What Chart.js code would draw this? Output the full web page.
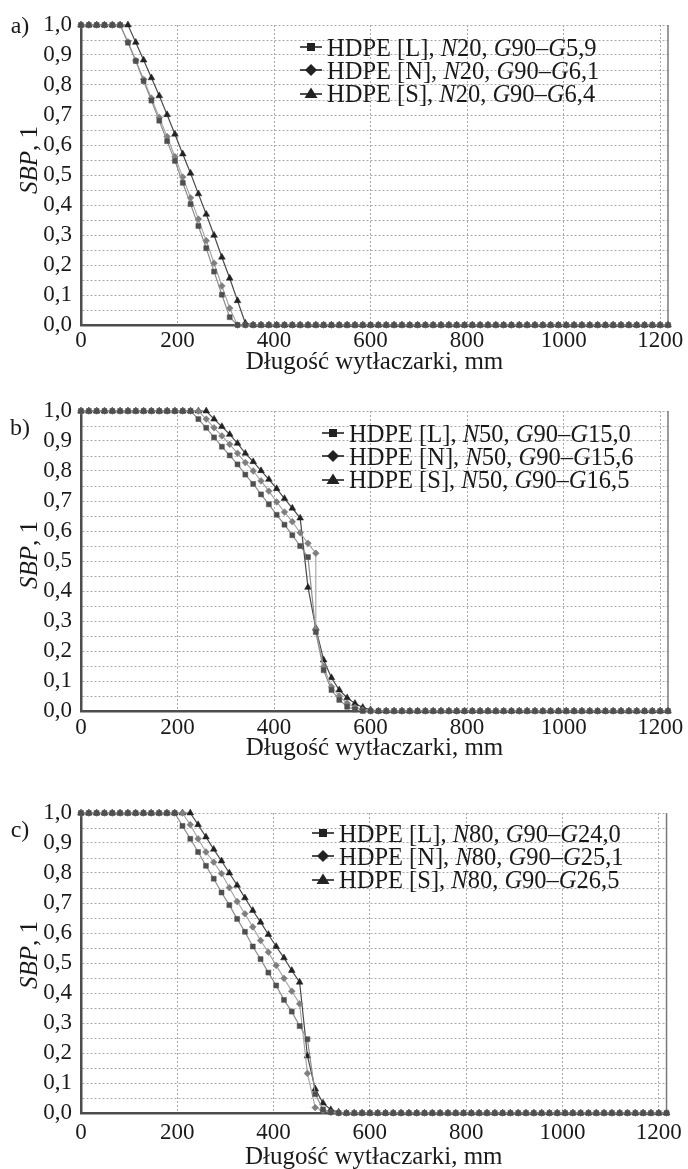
<!DOCTYPE html>
<html><head><meta charset="utf-8">
<script src="https://cdn.jsdelivr.net/npm/chart.js@4.4.1/dist/chart.umd.min.js"></script>
<style>
html,body{margin:0;padding:0;background:#fff;overflow:hidden;width:688px;height:1169px;}
#wrap{position:relative;width:688px;height:1169px;font-family:"Liberation Serif",serif;color:#1a1a1a;}
canvas{position:absolute;left:0;}
.lab{position:absolute;font-size:24px;white-space:nowrap;transform:translate(-50%,-50%);line-height:1;}
.ytitle{position:absolute;font-size:25px;white-space:nowrap;transform:translate(-50%,-50%) rotate(-90deg);line-height:1;}
.legend{position:absolute;font-size:24.5px;line-height:23px;}
.row{display:flex;align-items:center;height:23px;white-space:nowrap;}
.row svg{flex:none;margin-right:5px;}
</style></head><body><div id="wrap">
<canvas id="c0" width="688" height="382" style="top:0px"></canvas>
<canvas id="c1" width="688" height="382" style="top:386px"></canvas>
<canvas id="c2" width="688" height="390" style="top:788px"></canvas>
</div>
<script>
// ---------------- DATA ----------------
const xGrid = [0, 16.2, 32.4, 48.6, 64.9, 81.1, 97.3, 113.5, 129.7, 145.9,
  162.2, 178.4, 194.6, 210.8, 227.0, 243.2, 259.5, 275.7, 291.9, 308.1,
  324.3, 340.5, 356.8, 373.0, 389.2, 405.4, 421.6, 437.8, 454.1, 470.3,
  486.5, 502.7, 518.9, 535.1, 551.4, 567.6, 583.8, 600.0, 616.2, 632.4,
  648.6, 664.9, 681.1, 697.3, 713.5, 729.7, 745.9, 762.2, 778.4, 794.6,
  810.8, 827.0, 843.2, 859.5, 875.7, 891.9, 908.1, 924.3, 940.5, 956.8,
  973.0, 989.2, 1005.4, 1021.6, 1037.8, 1054.1, 1070.3, 1086.5, 1102.7, 1118.9,
  1135.1, 1151.4, 1167.6, 1183.8, 1200.0, 1216.2];
const xGridBN = [0, 16.2, 32.4, 48.6, 64.9, 81.1, 97.3, 113.5, 129.7, 145.9,
  162.2, 178.4, 194.6, 210.8, 227.0, 243.2, 259.5, 275.7, 291.9, 308.1,
  324.3, 340.5, 356.8, 373.0, 389.2, 405.4, 421.6, 437.8, 454.1, 470.3,
  486.5, 486.5, 502.7, 518.9, 535.1, 551.4, 567.6, 583.8, 600.0, 616.2, 632.4,
  648.6, 664.9, 681.1, 697.3, 713.5, 729.7, 745.9, 762.2, 778.4, 794.6,
  810.8, 827.0, 843.2, 859.5, 875.7, 891.9, 908.1, 924.3, 940.5, 956.8,
  973.0, 989.2, 1005.4, 1021.6, 1037.8, 1054.1, 1070.3, 1086.5, 1102.7, 1118.9,
  1135.1, 1151.4, 1167.6, 1183.8, 1200.0, 1216.2];

// a) N20
const aL = [1, 1, 1, 1, 1, 1, 0.941, 0.88, 0.813, 0.748,
  0.681, 0.613, 0.547, 0.474, 0.403, 0.33, 0.256, 0.178, 0.101, 0.026,
  0, 0, 0, 0, 0, 0, 0, 0, 0, 0,  0, 0, 0, 0, 0, 0, 0, 0, 0, 0,
  0, 0, 0, 0, 0, 0, 0, 0, 0, 0,  0, 0, 0, 0, 0, 0, 0, 0, 0, 0,
  0, 0, 0, 0, 0, 0, 0, 0, 0, 0,  0, 0, 0, 0, 0, 0];
const aN = [1, 1, 1, 1, 1, 1, 0.944, 0.882, 0.819, 0.756,
  0.692, 0.628, 0.561, 0.493, 0.424, 0.353, 0.281, 0.206, 0.13, 0.056,
  0, 0, 0, 0, 0, 0, 0, 0, 0, 0,  0, 0, 0, 0, 0, 0, 0, 0, 0, 0,
  0, 0, 0, 0, 0, 0, 0, 0, 0, 0,  0, 0, 0, 0, 0, 0, 0, 0, 0, 0,
  0, 0, 0, 0, 0, 0, 0, 0, 0, 0,  0, 0, 0, 0, 0, 0];
const aS = [1, 1, 1, 1, 1, 1, 1, 0.942, 0.883, 0.824,
  0.764, 0.701, 0.636, 0.57, 0.506, 0.437, 0.369, 0.299, 0.226, 0.156,
  0.081, 0.006, 0, 0, 0, 0, 0, 0, 0, 0,  0, 0, 0, 0, 0, 0, 0, 0, 0, 0,
  0, 0, 0, 0, 0, 0, 0, 0, 0, 0,  0, 0, 0, 0, 0, 0, 0, 0, 0, 0,
  0, 0, 0, 0, 0, 0, 0, 0, 0, 0,  0, 0, 0, 0, 0, 0];

// b) N50
const bL = [1, 1, 1, 1, 1, 1, 1, 1, 1, 1,
  1, 1, 1, 1, 1, 0.973, 0.944, 0.912, 0.881, 0.852,
  0.822, 0.788, 0.757, 0.722, 0.689, 0.654, 0.621, 0.586, 0.55, 0.513,
  0.263, 0.136, 0.07, 0.037, 0.014, 0.005, 0, 0, 0, 0,
  0, 0, 0, 0, 0, 0, 0, 0, 0, 0,  0, 0, 0, 0, 0, 0, 0, 0, 0, 0,
  0, 0, 0, 0, 0, 0, 0, 0, 0, 0,  0, 0, 0, 0, 0, 0];
const bN = [1, 1, 1, 1, 1, 1, 1, 1, 1, 1,
  1, 1, 1, 1, 1, 1, 0.973, 0.944, 0.917, 0.889,
  0.859, 0.828, 0.8, 0.767, 0.733, 0.697, 0.663, 0.631, 0.594, 0.559,
  0.526, 0.272, 0.148, 0.081, 0.05, 0.026, 0.012, 0.004, 0, 0, 0,
  0, 0, 0, 0, 0, 0, 0, 0, 0, 0,  0, 0, 0, 0, 0, 0, 0, 0, 0, 0,
  0, 0, 0, 0, 0, 0, 0, 0, 0, 0,  0, 0, 0, 0, 0, 0];
const bS = [1, 1, 1, 1, 1, 1, 1, 1, 1, 1,
  1, 1, 1, 1, 1, 1, 1, 0.973, 0.948, 0.922,
  0.892, 0.859, 0.831, 0.801, 0.772, 0.741, 0.708, 0.676, 0.643, 0.412,
  0.276, 0.17, 0.111, 0.07, 0.044, 0.025, 0.012, 0.004, 0, 0,
  0, 0, 0, 0, 0, 0, 0, 0, 0, 0,  0, 0, 0, 0, 0, 0, 0, 0, 0, 0,
  0, 0, 0, 0, 0, 0, 0, 0, 0, 0,  0, 0, 0, 0, 0, 0];

// c) N80
const cL = [1, 1, 1, 1, 1, 1, 1, 1, 1, 1,
  1, 1, 1, 0.957, 0.914, 0.87, 0.824, 0.781, 0.735, 0.693,
  0.647, 0.604, 0.555, 0.513, 0.468, 0.425, 0.377, 0.338, 0.29, 0.246,
  0.063, 0.012, 0.003, 0, 0, 0, 0, 0, 0, 0,
  0, 0, 0, 0, 0, 0, 0, 0, 0, 0,  0, 0, 0, 0, 0, 0, 0, 0, 0, 0,
  0, 0, 0, 0, 0, 0, 0, 0, 0, 0,  0, 0, 0, 0, 0, 0];
const cN = [1, 1, 1, 1, 1, 1, 1, 1, 1, 1,
  1, 1, 1, 1, 0.961, 0.914, 0.87, 0.836, 0.798, 0.751,
  0.705, 0.664, 0.62, 0.575, 0.536, 0.492, 0.449, 0.406, 0.364, 0.132,
  0.018, 0.008, 0.002, 0, 0, 0, 0, 0, 0, 0,
  0, 0, 0, 0, 0, 0, 0, 0, 0, 0,  0, 0, 0, 0, 0, 0, 0, 0, 0, 0,
  0, 0, 0, 0, 0, 0, 0, 0, 0, 0,  0, 0, 0, 0, 0, 0];
const cS = [1, 1, 1, 1, 1, 1, 1, 1, 1, 1,
  1, 1, 1, 1, 1, 0.961, 0.92, 0.879, 0.84, 0.8,
  0.759, 0.717, 0.675, 0.636, 0.595, 0.555, 0.517, 0.475, 0.436, 0.19,
  0.08, 0.033, 0.011, 0.003, 0, 0, 0, 0, 0, 0,
  0, 0, 0, 0, 0, 0, 0, 0, 0, 0,  0, 0, 0, 0, 0, 0, 0, 0, 0, 0,
  0, 0, 0, 0, 0, 0, 0, 0, 0, 0,  0, 0, 0, 0, 0, 0];

const panelLetters = ['a)', 'b)', 'c)'];
const materials = ['HDPE [L]', 'HDPE [N]', 'HDPE [S]'];
const screwSpeeds = ['20', '50', '80'];
const gA = ['5,9', '6,1', '6,4'];
const gB = ['15,0', '15,6', '16,5'];
const gC = ['24,0', '25,1', '26,5'];
const xTicks = [0, 200, 400, 600, 800, 1000, 1200];
const yGrid = [0, 0.05, 0.1, 0.15, 0.2, 0.25, 0.3, 0.35, 0.4, 0.45, 0.5,
  0.55, 0.6, 0.65, 0.7, 0.75, 0.8, 0.85, 0.9, 0.95, 1];
const yTickLabels = ['0,0', '0,1', '0,2', '0,3', '0,4', '0,5', '0,6', '0,7', '0,8', '0,9', '1,0'];
const xTitle = 'Długość wytłaczarki, mm';
const yTitleItalic = 'SBP';
const yTitleRest = ', 1';
const xMax = 1216.2;

// ---------------- STYLE / LAYOUT ----------------
const seriesStyle = [
  {pointStyle: 'rect', radius: 3.5, fill: '#4f4f4f', line: '#8e8e8e', lw: 1.2},
  {pointStyle: 'rectRot', radius: 3.4, fill: '#7f7f7f', line: '#a3a3a3', lw: 1.1},
  {pointStyle: 'triangle', radius: 3.9, fill: '#222222', line: '#4a4a4a', lw: 1.2}
];
const layouts = [
  {axisH: 57, tickPad: 2, titlePad: 5, legendX: 311, legendY: 47, letterY: 25, yTitleY: 160, top: 0},
  {axisH: 57, tickPad: 3, titlePad: 5, legendX: 333, legendY: 433, letterY: 427, yTitleY: 555, top: 386},
  {axisH: 65, tickPad: 6, titlePad: 5.6, legendX: 323, legendY: 833, letterY: 829, yTitleY: 955, top: 788}
];
const panels = [
  {series: [[xGrid, aL], [xGrid, aN], [xGrid, aS]], g: gA},
  {series: [[xGrid, bL], [xGridBN, bN], [xGrid, bS]], g: gB},
  {series: [[xGrid, cL], [xGrid, cN], [xGrid, cS]], g: gC}
];

Chart.defaults.font.family = '"Liberation Serif", serif';
Chart.defaults.color = '#1a1a1a';

const rightBorder = {
  id: 'rightBorder',
  beforeDatasetsDraw(chart) {
    const {ctx, chartArea: a} = chart;
    ctx.save();
    ctx.strokeStyle = '#7a7a7a';
    ctx.lineWidth = 1.5;
    ctx.beginPath();
    ctx.moveTo(a.right, a.top);
    ctx.lineTo(a.right, a.bottom);
    ctx.stroke();
    ctx.restore();
  }
};

const symbolSvg = [
  '<svg width="22" height="14"><line x1="0" y1="7" x2="22" y2="7" stroke="#222" stroke-width="1.6"/><rect x="7" y="3" width="8" height="8" fill="#222"/></svg>',
  '<svg width="22" height="14"><line x1="0" y1="7" x2="22" y2="7" stroke="#222" stroke-width="1.6"/><polygon points="11,1 17,7 11,13 5,7" fill="#222"/></svg>',
  '<svg width="22" height="14"><line x1="0" y1="8" x2="22" y2="8" stroke="#222" stroke-width="1.6"/><polygon points="11,1.5 17.5,12 4.5,12" fill="#222"/></svg>'
];

const wrap = document.getElementById('wrap');

panels.forEach((p, pi) => {
  const L = layouts[pi];
  const datasets = p.series.map(([xs, ys], k) => {
    const st = seriesStyle[k];
    return {
      label: materials[k],
      data: xs.map((x, i) => ({x: x, y: ys[i]})),
      showLine: true,
      borderColor: st.line,
      borderWidth: st.lw,
      pointStyle: st.pointStyle,
      pointRadius: st.radius,
      pointBackgroundColor: st.fill,
      pointBorderColor: st.fill,
      pointBorderWidth: 0.5,
      tension: 0,
      clip: false
    };
  });
  new Chart(document.getElementById('c' + pi), {
    type: 'scatter',
    data: {datasets},
    options: {
      responsive: false,
      animation: false,
      devicePixelRatio: 1,
      layout: {padding: {top: 25, right: 20, bottom: 0, left: 0}},
      plugins: {legend: {display: false}, tooltip: {enabled: false}},
      scales: {
        x: {
          type: 'linear', min: 0, max: xMax, bounds: 'data',
          afterBuildTicks: s => { s.ticks = xTicks.map(v => ({value: v})); },
          afterFit: s => { s.height = L.axisH; },
          ticks: {callback: v => String(v), font: {size: 23}, color: '#1a1a1a',
                  padding: L.tickPad, maxRotation: 0, autoSkip: false},
          grid: {color: '#a8a8a8', lineWidth: 1, drawTicks: false},
          border: {display: true, color: '#4d4d4d', width: 2.5, dash: [2, 2]},
          title: {display: true, text: xTitle, font: {size: 25}, color: '#1a1a1a',
                  padding: {top: 0, bottom: L.titlePad}}
        },
        y: {
          type: 'linear', min: 0, max: 1, bounds: 'data',
          afterBuildTicks: s => { s.ticks = yGrid.map(v => ({value: v})); },
          afterFit: s => { s.width = 81; },
          ticks: {
            callback: v => { const k = Math.round(v * 20); return k % 2 === 0 ? yTickLabels[k / 2] : ''; },
            font: {size: 23}, color: '#1a1a1a', padding: 9, autoSkip: false
          },
          grid: {color: '#a8a8a8', lineWidth: 1, drawTicks: false},
          border: {display: true, color: '#4d4d4d', width: 2.5, dash: [2, 2]}
        }
      }
    },
    plugins: [rightBorder]
  });

  // panel letter
  const lt = document.createElement('div');
  lt.className = 'lab';
  lt.style.left = '20px';
  lt.style.top = L.letterY + 'px';
  lt.textContent = panelLetters[pi];
  wrap.appendChild(lt);

  // y title
  const yt = document.createElement('div');
  yt.className = 'ytitle';
  yt.style.left = '28px';
  yt.style.top = L.yTitleY + 'px';
  yt.innerHTML = '<i>' + yTitleItalic + '</i>' + yTitleRest;
  wrap.appendChild(yt);

  // legend
  const lg = document.createElement('div');
  lg.className = 'legend';
  lg.style.left = (L.legendX - 11) + 'px';
  lg.style.top = (L.legendY - 11.5) + 'px';
  lg.innerHTML = materials.map((m, k) =>
    '<div class="row">' + symbolSvg[k] + '<span>' + m + ', <i>N</i>' + screwSpeeds[pi] +
    ', <i>G</i>90–<i>G</i>' + p.g[k] + '</span></div>').join('');
  wrap.appendChild(lg);
});
</script>
</body></html>
